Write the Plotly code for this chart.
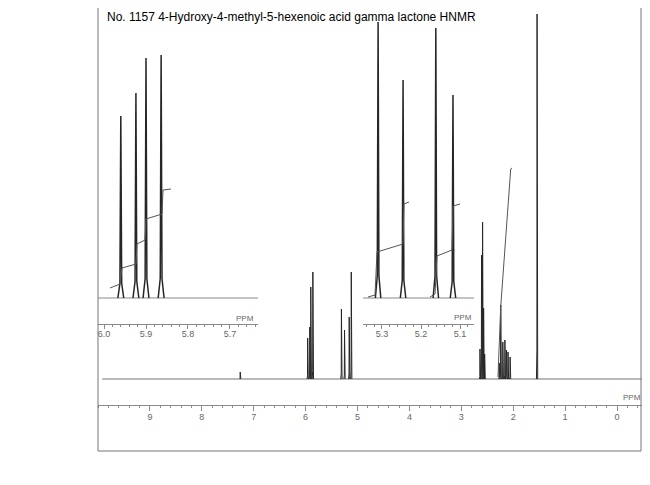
import plotly.graph_objects as go

# the page body has an 8px margin, so the figure is 8px smaller and shifted
OFF = 8
W, H = 650 - OFF, 485 - OFF

# ---------------- data ----------------
title = "No. 1157 4-Hydroxy-4-methyl-5-hexenoic acid gamma lactone HNMR"

# main spectrum peaks (ppm, relative intensity)
main_ppm = [7.26, 5.96, 5.92, 5.90, 5.86, 5.31, 5.25, 5.16, 5.12,
            2.64, 2.61, 2.59, 2.57, 2.55,
            2.27, 2.24, 2.20, 2.16, 2.13, 2.10, 2.06, 1.54]
main_int = [7, 41, 52, 92, 107, 70, 49, 62, 107,
            30, 124, 157, 71, 25,
            16, 74, 37, 39, 29, 27, 22, 365]
main_ticks = [9, 8, 7, 6, 5, 4, 3, 2, 1, 0]
main_tick_text = ["9", "8", "7", "6", "5", "4", "3", "2", "1", "0"]

# integral trace over the 2.1 ppm multiplet
main_integ_ppm = [2.293, 2.241, 2.048, 2.023]
main_integ_val = [2, 72, 210, 211]

# left inset: 6.0 - 5.7 ppm
inL_ppm = [5.960, 5.924, 5.900, 5.864]
inL_int = [182, 205, 240, 243]
inL_integ_ppm = [5.9857, 5.9619, 5.9571, 5.9238, 5.9214, 5.9024, 5.9000, 5.8619, 5.8595, 5.8405]
inL_integ_val = [10, 14, 30, 34, 54, 58, 79, 84, 108, 109]
inL_ticks = [6.0, 5.9, 5.8, 5.7]
inL_tick_text = ["6.0", "5.9", "5.8", "5.7"]

# right inset: 5.3 - 5.1 ppm
inR_ppm = [5.310, 5.246, 5.162, 5.118]
inR_int = [276, 218, 270, 203]
inR_integ1_ppm = [5.3359, 5.3179, 5.3128, 5.2462, 5.2436, 5.2308]
inR_integ1_val = [1, 3, 46, 54, 94, 96]
inR_integ2_ppm = [5.1769, 5.1641, 5.1590, 5.1205, 5.1179, 5.1000]
inR_integ2_val = [1, 4, 42, 48, 92, 94]
inR_ticks = [5.3, 5.2, 5.1]
inR_tick_text = ["5.3", "5.2", "5.1"]

# ---------------- helpers ----------------
LINE = "#262626"
AX = "#8a8a8a"
TXT = "#666666"


def px(x):
    return (x - OFF) / W


def py(y):
    return 1 - (y - OFF) / H


def yrange(baseline_px):
    # y value = height in screen pixels above the given baseline
    below = H - (baseline_px - OFF)
    return [-below, H - below]


def sticks(pos, hts, w):
    xs, ys = [], []
    for p, h in zip(pos, hts):
        xs += [p + w, p + w * 0.3, p, p - w * 0.3, p - w, None]
        ys += [0, h * 0.08, h, h * 0.08, 0, None]
    return xs, ys


fig = go.Figure()

# main spectrum
main_lo, main_hi = -0.4817, 10.0
fig.add_trace(go.Scatter(x=[9.92, main_lo], y=[0, 0], mode="lines",
                         line=dict(color="#777", width=1), xaxis="x", yaxis="y"))
xs, ys = sticks(main_ppm, main_int, 0.012)
fig.add_trace(go.Scatter(x=xs, y=ys, mode="lines", line=dict(color=LINE, width=1),
                         xaxis="x", yaxis="y"))
fig.add_trace(go.Scatter(x=main_integ_ppm, y=main_integ_val, mode="lines",
                         line=dict(color="#555", width=1), xaxis="x", yaxis="y"))

# left inset
L_lo, L_hi = 5.6333, 6.0143
fig.add_trace(go.Scatter(x=[L_hi, L_lo], y=[0, 0], mode="lines",
                         line=dict(color="#888", width=1), xaxis="x2", yaxis="y2"))
xs, ys = sticks(inL_ppm, inL_int, 0.007)
fig.add_trace(go.Scatter(x=xs, y=ys, mode="lines", line=dict(color=LINE, width=1.5),
                         xaxis="x2", yaxis="y2"))
fig.add_trace(go.Scatter(x=inL_integ_ppm, y=inL_integ_val, mode="lines",
                         line=dict(color="#555", width=1), xaxis="x2", yaxis="y2"))

# right inset
R_lo, R_hi = 5.0641, 5.3487
fig.add_trace(go.Scatter(x=[R_hi, R_lo], y=[0, 0], mode="lines",
                         line=dict(color="#888", width=1), xaxis="x3", yaxis="y3"))
xs, ys = sticks(inR_ppm, inR_int, 0.007)
fig.add_trace(go.Scatter(x=xs, y=ys, mode="lines", line=dict(color=LINE, width=1.5),
                         xaxis="x3", yaxis="y3"))
fig.add_trace(go.Scatter(x=inR_integ1_ppm, y=inR_integ1_val, mode="lines",
                         line=dict(color="#555", width=1), xaxis="x3", yaxis="y3"))
fig.add_trace(go.Scatter(x=inR_integ2_ppm, y=inR_integ2_val, mode="lines",
                         line=dict(color="#555", width=1), xaxis="x3", yaxis="y3"))

tickfont = dict(family="Liberation Sans, Arial", size=9, color=TXT)

fig.update_layout(
    width=W, height=H, margin=dict(l=0, r=0, t=0, b=0),
    paper_bgcolor="white", plot_bgcolor="rgba(0,0,0,0)", showlegend=False,
    xaxis=dict(domain=[px(98), px(642)], range=[main_hi, main_lo], anchor="free",
               position=py(405), showline=True, linecolor=AX, linewidth=1,
               ticks="outside", ticklen=5, tickcolor=AX, tickvals=main_ticks,
               ticktext=main_tick_text, tickfont=tickfont, showgrid=False, zeroline=False,
               ticklabelstandoff=-2,
               minor=dict(ticks="outside", ticklen=2, dtick=0.2, tickcolor=AX, showgrid=False)),
    yaxis=dict(domain=[0, 1], range=yrange(379), visible=False, anchor="x"),
    xaxis2=dict(domain=[px(98), px(258)], range=[L_hi, L_lo], anchor="free",
                position=py(324), showline=True, linecolor=AX, linewidth=1,
                ticks="outside", ticklen=4, tickcolor=AX, tickvals=inL_ticks,
                ticktext=inL_tick_text, tickfont=tickfont, showgrid=False, zeroline=False,
                ticklabelstandoff=-3,
                minor=dict(ticks="outside", ticklen=2, dtick=0.02, tickcolor=AX, showgrid=False)),
    yaxis2=dict(domain=[0, 1], range=yrange(298), visible=False, anchor="x2"),
    xaxis3=dict(domain=[px(363), px(474)], range=[R_hi, R_lo], anchor="free",
                position=py(324), showline=True, linecolor=AX, linewidth=1,
                ticks="outside", ticklen=4, tickcolor=AX, tickvals=inR_ticks,
                ticktext=inR_tick_text, tickfont=tickfont, showgrid=False, zeroline=False,
                ticklabelstandoff=-3,
                minor=dict(ticks="outside", ticklen=2, dtick=0.02, tickcolor=AX, showgrid=False)),
    yaxis3=dict(domain=[0, 1], range=yrange(298), visible=False, anchor="x3"),
)

# frame lines
for x0, y0, x1, y1 in [(98, OFF, 98, 451), (641, OFF, 641, 451), (98, 451, 641, 451)]:
    fig.add_shape(type="line", xref="paper", yref="paper",
                  x0=px(x0), y0=py(y0), x1=px(x1), y1=py(y1),
                  line=dict(color="#777", width=1))

fig.add_annotation(text=title, xref="paper", yref="paper", x=px(105), y=py(17),
                   xanchor="left", yanchor="middle", showarrow=False,
                   font=dict(family="Liberation Sans, Arial", size=12, color="black"))
for (x, y) in [(632, 397), (245, 318), (463, 317)]:
    fig.add_annotation(text="PPM", xref="paper", yref="paper", x=px(x), y=py(y),
                       xanchor="center", yanchor="middle", showarrow=False,
                       font=dict(family="Liberation Sans, Arial", size=8, color=TXT))

fig.write_html("out.html")
